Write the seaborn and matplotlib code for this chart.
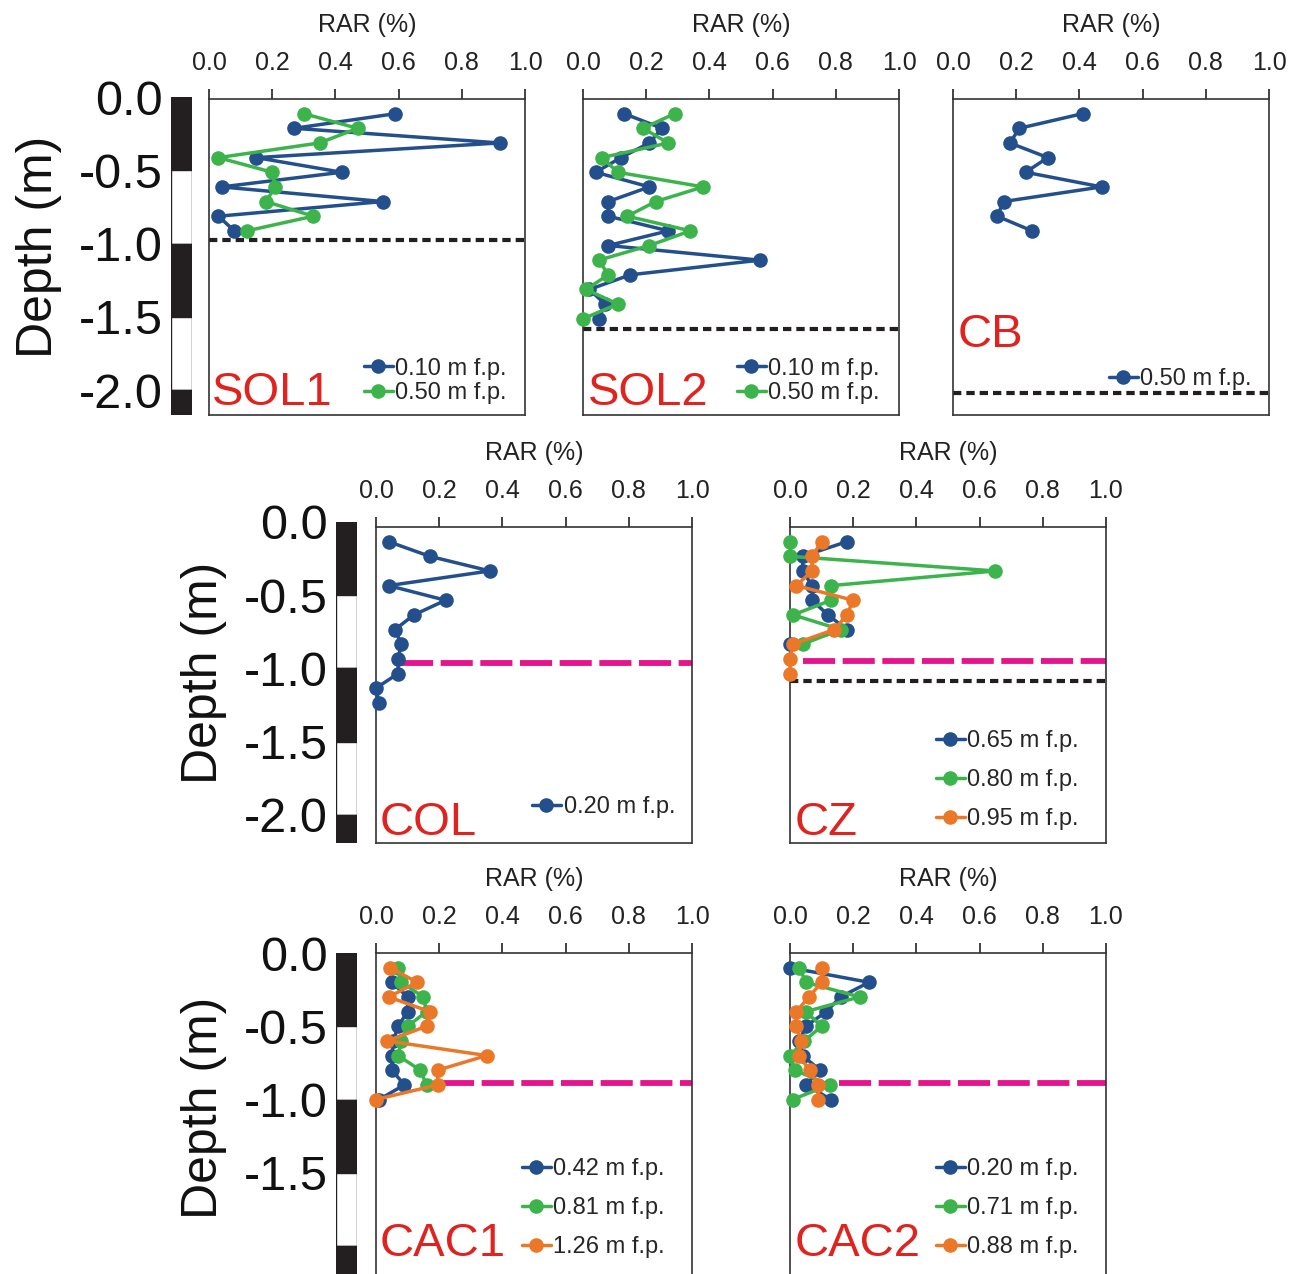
import numpy as np
import pandas as pd
import matplotlib
matplotlib.use("Agg")
import matplotlib.pyplot as plt
import seaborn as sns

# ==============================================================================
# DADOS (RAR em %, profundidade em m)
# ==============================================================================
PROF_09 = [-0.1, -0.2, -0.3, -0.4, -0.5, -0.6, -0.7, -0.8, -0.9]
PROF_10 = [-0.1, -0.2, -0.3, -0.4, -0.5, -0.6, -0.7, -0.8, -0.9, -1.0]
PROF_12 = [-0.1, -0.2, -0.3, -0.4, -0.5, -0.6, -0.7, -0.8, -0.9, -1.0, -1.1, -1.2]
PROF_15 = [-0.1, -0.2, -0.3, -0.4, -0.5, -0.6, -0.7, -0.8, -0.9, -1.0,
           -1.1, -1.2, -1.3, -1.4, -1.5]
PROF_08 = [-0.1, -0.2, -0.3, -0.4, -0.5, -0.6, -0.7, -0.8]
PROF_02_10 = [-0.2, -0.3, -0.4, -0.5, -0.6, -0.7, -0.8, -0.9, -1.0]

SOL1_010 = [0.59, 0.27, 0.92, 0.15, 0.42, 0.04, 0.55, 0.03, 0.08]
SOL1_050 = [0.30, 0.47, 0.35, 0.03, 0.20, 0.21, 0.18, 0.33, 0.12]

SOL2_010 = [0.13, 0.25, 0.21, 0.12, 0.04, 0.21, 0.08, 0.08, 0.27, 0.08,
            0.56, 0.15, 0.02, 0.07, 0.05]
SOL2_050 = [0.29, 0.19, 0.27, 0.06, 0.11, 0.38, 0.23, 0.14, 0.34, 0.21,
            0.05, 0.08, 0.01, 0.11, 0.00]

CB_050 = [0.41, 0.21, 0.18, 0.30, 0.23, 0.47, 0.16, 0.14, 0.25]

COL_020 = [0.04, 0.17, 0.36, 0.04, 0.22, 0.12, 0.06, 0.08, 0.07, 0.07, 0.00, 0.01]

CZ_065 = [0.18, 0.04, 0.04, 0.07, 0.07, 0.12, 0.18, 0.00]
CZ_080 = [0.00, 0.00, 0.65, 0.13, 0.13, 0.01, 0.16, 0.04]
CZ_095 = [0.10, 0.07, 0.07, 0.02, 0.20, 0.18, 0.14, 0.01, 0.00, 0.00]

CAC1_042 = [0.05, 0.10, 0.10, 0.07, 0.055, 0.05, 0.05, 0.09, 0.01]
CAC1_081 = [0.07, 0.08, 0.15, 0.16, 0.10, 0.08, 0.07, 0.14, 0.16]
CAC1_126 = [0.045, 0.13, 0.04, 0.17, 0.16, 0.035, 0.35, 0.195, 0.195, 0.00]

CAC2_020 = [0.00, 0.25, 0.16, 0.115, 0.05, 0.03, 0.04, 0.095, 0.05, 0.13]
CAC2_071 = [0.03, 0.05, 0.22, 0.05, 0.10, 0.045, 0.00, 0.015, 0.125, 0.008]
CAC2_088 = [0.10, 0.10, 0.06, 0.02, 0.02, 0.035, 0.028, 0.062, 0.09, 0.088]

# linhas de referência (profundidade em m, início em RAR)
BASE_SOL1 = -0.96
BASE_SOL2 = -1.57
BASE_CB = -2.01
BASE_CZ = -1.05
NIVEL_COL, INICIO_COL = -0.925, 0.08
NIVEL_CZ, INICIO_CZ = -0.915, 0.04
NIVEL_CAC1, INICIO_CAC1 = -0.89, 0.21
NIVEL_CAC2, INICIO_CAC2 = -0.89, 0.155

TICKS_X = [0.0, 0.2, 0.4, 0.6, 0.8, 1.0]
REGUA_TOPOS = [0.0, -0.5, -1.0, -1.5, -2.0]
REGUA_TICKS = [0.0, -0.5, -1.0, -1.5, -2.0]
REGUA_LABELS = ['0.0', '-0.5', '-1.0', '-1.5', '-2.0']

AZUL = '#23508c'
VERDE = '#3cb44b'
LARANJA = '#eb7828'
MAGENTA = '#e6148c'
VERMELHO = '#e0231e'
PRETO = '#231f20'

TRACO_PRETO = (0, (2.0, 1.2))
TRACO_MAGENTA = (0, (5.5, 1.3))

# ==============================================================================
# LAYOUT (pixels)
# ==============================================================================
W, H = 1303, 1274
PX_M = 146.5


def caixa(left, top, width, height):
    return [left / W, 1 - (top + height) / H, width / W, height / H]


def painel(fig, box, series, nome, pos_nome, pos_leg, espaco_leg):
    ax = fig.add_axes(caixa(*box))
    altura = box[3] / PX_M
    df = pd.concat([pd.DataFrame({'RAR': xs, 'Depth': ds, 'Serie': rot})
                    for rot, xs, ds, _ in series], ignore_index=True)
    paleta = {rot: cor for rot, _, _, cor in series}
    sns.lineplot(data=df, x='RAR', y='Depth', hue='Serie', palette=paleta,
                 estimator=None, sort=False, orient='y', marker='o',
                 markersize=10.5, markeredgewidth=0, linewidth=2.5,
                 legend=False, clip_on=False, ax=ax)
    handles = list(ax.lines)
    for h in handles:
        h.set_zorder(3)
    ax.legend(handles, [s[0] for s in series], loc='lower right',
              bbox_to_anchor=(pos_leg[0] / W, 1 - pos_leg[1] / H),
              bbox_transform=fig.transFigure, frameon=False, fontsize=17,
              handlelength=1.25, handletextpad=0.1, labelspacing=espaco_leg,
              borderpad=0, borderaxespad=0)

    ax.set_xlim(0, 1)
    ax.set_ylim(-altura, 0)
    ax.xaxis.tick_top()
    ax.xaxis.set_label_position('top')
    ax.set_xticks(TICKS_X, [f'{v:.1f}' for v in TICKS_X])
    ax.set_yticks([])
    ax.tick_params(axis='x', direction='out', length=7, width=1.2,
                   labelsize=18, pad=10, colors='#222222')
    ax.set_xlabel('RAR (%)', fontsize=18, labelpad=14, color='#222222')
    ax.set_ylabel('')
    for sp in ax.spines.values():
        sp.set_visible(True)
        sp.set_linewidth(1.2)
        sp.set_color('#333333')
    fig.text(pos_nome[0] / W, 1 - pos_nome[1] / H, nome, color=VERMELHO,
             fontsize=34, ha='left', va='baseline')
    return ax


def regua(fig, box, n_ticks, y_rotulo):
    ax = fig.add_axes(caixa(*box))
    altura = box[3] / PX_M
    for i, topo in enumerate(REGUA_TOPOS):
        cor = PRETO if i % 2 == 0 else 'white'
        ax.bar(0, -0.5, bottom=topo, width=1, color=cor, edgecolor=PRETO,
               linewidth=1)
    ax.set_xlim(-0.5, 0.5)
    ax.set_ylim(-altura, 0)
    ax.set_xticks([])
    ax.set_yticks(REGUA_TICKS[:n_ticks], REGUA_LABELS[:n_ticks])
    ax.tick_params(axis='y', length=0, pad=6, labelsize=35, colors='#111111')
    ax.set_ylabel('Depth (m)', fontsize=36, labelpad=12, color='#111111')
    ax.yaxis.label.set_y(y_rotulo)
    for sp in ax.spines.values():
        sp.set_visible(False)
    return ax


sns.set_theme(style='white')
plt.rcParams['font.family'] = ['Liberation Sans', 'DejaVu Sans']

fig = plt.figure(figsize=(W / 100, H / 100), dpi=100)

# ---- linha superior ----
ax = painel(fig, (209, 99, 316, 316),
            [('0.10 m f.p.', SOL1_010, PROF_09, AZUL),
             ('0.50 m f.p.', SOL1_050, PROF_09, VERDE)],
            'SOL1', (212, 405), (507, 404), 0.1)
ax.axhline(BASE_SOL1, color=PRETO, lw=3, linestyle=TRACO_PRETO)

ax = painel(fig, (583, 99, 316, 316),
            [('0.10 m f.p.', SOL2_010, PROF_15, AZUL),
             ('0.50 m f.p.', SOL2_050, PROF_15, VERDE)],
            'SOL2', (588, 405), (880, 404), 0.1)
ax.axhline(BASE_SOL2, color=PRETO, lw=3, linestyle=TRACO_PRETO)

ax = painel(fig, (953, 99, 316, 316),
            [('0.50 m f.p.', CB_050, PROF_09, AZUL)],
            'CB', (958, 347), (1252, 390), 0.1)
ax.axhline(BASE_CB, color=PRETO, lw=3, linestyle=TRACO_PRETO)

regua(fig, (171, 97, 21, 318), 5, 0.53)

# ---- linha do meio ----
ax = painel(fig, (376, 527, 316, 316),
            [('0.20 m f.p.', COL_020, PROF_12, AZUL)],
            'COL', (380, 835), (675, 818), 0.7)
ax.hlines(NIVEL_COL, INICIO_COL, 1.0, color=MAGENTA, lw=4.2, linestyles=[TRACO_MAGENTA])

ax = painel(fig, (790, 527, 316, 316),
            [('0.65 m f.p.', CZ_065, PROF_08, AZUL),
             ('0.80 m f.p.', CZ_080, PROF_08, VERDE),
             ('0.95 m f.p.', CZ_095, PROF_10, LARANJA)],
            'CZ', (795, 835), (1079, 830), 0.72)
ax.hlines(NIVEL_CZ, INICIO_CZ, 1.0, color=MAGENTA, lw=4.2, linestyles=[TRACO_MAGENTA])
ax.axhline(BASE_CZ, color=PRETO, lw=3, linestyle=TRACO_PRETO)

regua(fig, (336, 522, 21, 321), 5, 0.53)

# ---- linha inferior ----
ax = painel(fig, (376, 953, 316, 330),
            [('0.42 m f.p.', CAC1_042, PROF_02_10, AZUL),
             ('0.81 m f.p.', CAC1_081, PROF_09, VERDE),
             ('1.26 m f.p.', CAC1_126, PROF_10, LARANJA)],
            'CAC1', (380, 1256), (665, 1258), 0.72)
ax.hlines(NIVEL_CAC1, INICIO_CAC1, 1.0, color=MAGENTA, lw=4.2, linestyles=[TRACO_MAGENTA])

ax = painel(fig, (790, 953, 316, 330),
            [('0.20 m f.p.', CAC2_020, PROF_10, AZUL),
             ('0.71 m f.p.', CAC2_071, PROF_10, VERDE),
             ('0.88 m f.p.', CAC2_088, PROF_10, LARANJA)],
            'CAC2', (795, 1256), (1079, 1258), 0.72)
ax.hlines(NIVEL_CAC2, INICIO_CAC2, 1.0, color=MAGENTA, lw=4.2, linestyles=[TRACO_MAGENTA])

regua(fig, (336, 953, 21, 330), 4, 0.53)

fig.savefig('out.png', dpi=100)
